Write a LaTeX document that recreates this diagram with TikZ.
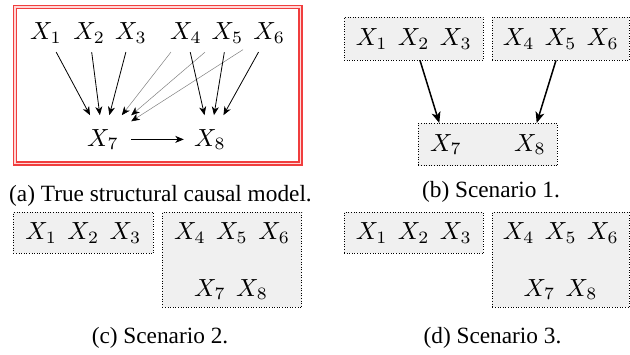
\documentclass[tikz,border=0pt]{standalone}
\usepackage{graphicx}
\usepackage{fontspec}
\setmainfont{Liberation Serif}
\usetikzlibrary{arrows.meta,calc}

\definecolor{frame}{RGB}{240,62,62}
\definecolor{framegap}{RGB}{255,215,215}
\definecolor{boxfill}{RGB}{240,240,240}
% math labels: 10pt math, enlarged as a whole
\newcommand\mv[1]{\scalebox{2.48}{$#1$}}
\newcommand\xgap{\hspace{4.2pt}}

\tikzset{
  mathlab/.style={font=\fontsize{10}{12}\selectfont, inner sep=0pt},
  srcvar/.style={mathlab, minimum width=52pt, minimum height=38pt, anchor=base},
  dstvar/.style={mathlab, minimum height=48pt, anchor=base},
  edge/.style={line width=0.8pt, -{Stealth[length=8.5pt,width=7pt,inset=2.5pt]}},
  weakedge/.style={line width=0.5pt, draw=black!50, -{Stealth[length=8.5pt,width=7pt,inset=2.5pt,fill=black,color=black]}},
  groupedge/.style={line width=1.5pt, -{Stealth[length=11pt,width=9pt,inset=3pt]}},
  groupbox/.style={draw, dotted, line width=0.6pt, fill=boxfill, mathlab},
  caption/.style={font=\fontsize{23.3}{28}\selectfont, inner sep=0pt, anchor=base},
}

\begin{document}
\begin{tikzpicture}[x=1pt, y=-1pt]
\useasboundingbox (0,0) rectangle (630,354);

% (a) structural causal model
\draw[frame, line width=1.8pt, double=framegap, double distance=1.2pt]
  (14.9,6.9) rectangle (300.5,163.5);
\node[srcvar] (x1) at (45.9,39.5) {\mv{X_1}};
\node[srcvar] (x2) at (89.2,39.5) {\mv{X_2}};
\node[srcvar] (x3) at (130.9,39.5) {\mv{X_3}};
\node[srcvar] (x4) at (185.9,39.5) {\mv{X_4}};
\node[srcvar] (x5) at (227.5,39.5) {\mv{X_5}};
\node[srcvar] (x6) at (269.2,39.5) {\mv{X_6}};
\node[dstvar, minimum width=56pt] (x7) at (103,146) {\mv{X_7}};
\node[dstvar, minimum width=52pt] (x8) at (210,146) {\mv{X_8}};
\draw[weakedge] (x4) -- (x7);
\draw[weakedge] (x5) -- (x7);
\draw[weakedge] (x6) -- (x7);
\draw[edge] (x1) -- (x7);
\draw[edge] (x2) -- (x7);
\draw[edge] (x3) -- (x7);
\draw[edge] (x4) -- (x8);
\draw[edge] (x5) -- (x8);
\draw[edge] (x6) -- (x8);
\draw[edge] (x7) -- (x8);
\node[caption] (capa) at (160.5,201.5) {(a) True structural causal model.};

% (b) scenario 1
\node[groupbox, minimum width=139.3pt, minimum height=42.7pt] (b1) at (413.7,38.7)
  {\mv{X_1\xgap X_2\xgap X_3}};
\node[groupbox, minimum width=137.3pt, minimum height=42.7pt] (b2) at (560.7,38.7)
  {\mv{X_4\xgap X_5\xgap X_6}};
\node[groupbox, minimum width=139pt, minimum height=42.4pt] (b3) at (487.8,144.5) {};
\node[mathlab] (b7) at (446,144.5) {\mv{X_7}};
\node[mathlab] (b8) at (530,144.5) {\mv{X_8}};
\draw[groupedge] ([xshift=6.3pt]b1.south) -- ([xshift=-48.5pt]b3.north);
\draw[groupedge] ([xshift=-4.7pt]b2.south) -- ([xshift=48.9pt]b3.north);
\node[caption] (capb) at (491,197.5) {(b) Scenario 1.};

% (c) scenario 2
\node[groupbox, minimum width=140pt, minimum height=41pt] (c1) at (83.3,232.8)
  {\mv{X_1\xgap X_2\xgap X_3}};
\node[groupbox, minimum width=139.4pt, minimum height=95pt] (c2) at (232,259.8) {};
\node[mathlab] (c456) at (232,232.8) {\mv{X_4\xgap X_5\xgap X_6}};
\node[mathlab] (c78) at (231,289.5) {\mv{X_7\xgap X_8}};
\node[caption] (capc) at (160,343.5) {(c) Scenario 2.};

% (d) scenario 3
\node[groupbox, minimum width=139.3pt, minimum height=41pt] (d1) at (413.7,232.8)
  {\mv{X_1\xgap X_2\xgap X_3}};
\node[groupbox, minimum width=137pt, minimum height=95pt] (d2) at (560.8,259.8) {};
\node[mathlab] (d456) at (560.8,232.8) {\mv{X_4\xgap X_5\xgap X_6}};
\node[mathlab] (d78) at (560.5,289.5) {\mv{X_7\xgap X_8}};
\node[caption] (capd) at (492.5,343.5) {(d) Scenario 3.};
\end{tikzpicture}
\end{document}
